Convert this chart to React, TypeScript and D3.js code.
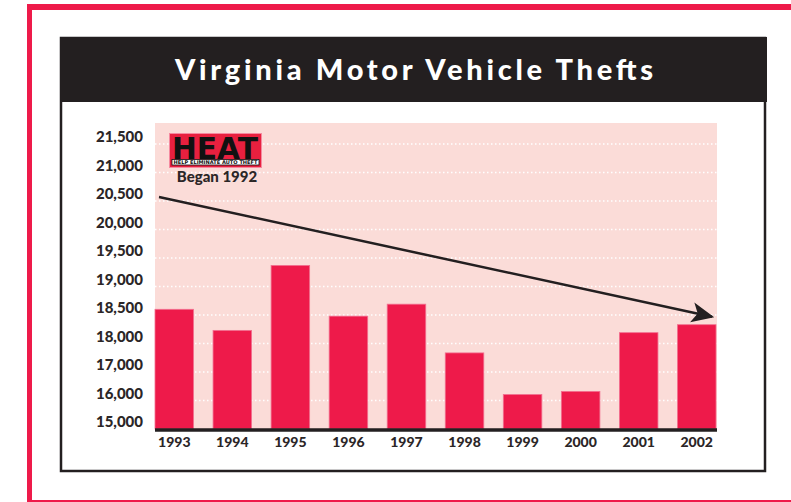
import React, { useEffect, useRef } from "react";
import * as d3 from "d3";

// chart values
const years = ["1993", "1994", "1995", "1996", "1997", "1998", "1999", "2000", "2001", "2002"];
const thefts = [18600, 18230, 19370, 18480, 18690, 17670, 16210, 16320, 18190, 18330];
const yTicks = [15000, 16000, 17000, 18000, 18500, 19000, 19500, 20000, 20500, 21000, 21500];
const trendStart = 20570;
const trendEnd = 18470;
const title = "Virginia Motor Vehicle Thefts";

const width = 791;
const height = 502;
const plot = { left: 155, right: 717, top: 123, bottom: 429, gridTop: 144 };
const RED = "#ee1a4a";
const DARK = "#231f20";
const TEXT = "#2b2627";

export default function App() {
  const ref = useRef<SVGSVGElement>(null);

  useEffect(() => {
    const svg = d3.select(ref.current);
    svg.selectAll("*").remove();

    // page frame
    svg.append("rect").attr("x", 27).attr("y", 4).attr("width", width - 27).attr("height", 6).attr("fill", RED);
    svg.append("rect").attr("x", 27).attr("y", 4).attr("width", 5).attr("height", height - 4).attr("fill", RED);
    svg.append("rect").attr("x", 27).attr("y", 500).attr("width", width - 27).attr("height", 2).attr("fill", RED);

    // chart box
    svg.append("rect").attr("x", 61).attr("y", 38).attr("width", 704).attr("height", 433)
      .attr("fill", "#fff").attr("stroke", DARK).attr("stroke-width", 2.5);
    svg.append("rect").attr("x", 60).attr("y", 37).attr("width", 707).attr("height", 65).attr("fill", DARK);
    svg.append("text").attr("x", 414).attr("y", 80).attr("text-anchor", "middle")
      .attr("font-family", "Lato, 'Open Sans', sans-serif").attr("font-weight", 900)
      .attr("font-size", 29).attr("fill", "#fff")
      .attr("textLength", 478).attr("lengthAdjust", "spacing")
      .text(title);

    // scales
    const x = d3.scaleBand<string>().domain(years).range([plot.left, plot.right - 1])
      .paddingInner(0.336).paddingOuter(0).align(0);
    const step = (plot.bottom - plot.gridTop) / (yTicks.length - 1);
    const y = d3.scaleLinear().domain(yTicks).range(yTicks.map((_, i) => plot.bottom - i * step));

    svg.append("rect").attr("x", plot.left).attr("y", plot.top)
      .attr("width", plot.right - plot.left).attr("height", plot.bottom - plot.top).attr("fill", "#fbdcd8");

    // dotted grid
    svg.append("g").selectAll("line").data(yTicks.slice(1)).join("line")
      .attr("x1", plot.left).attr("x2", plot.right)
      .attr("y1", d => y(d)).attr("y2", d => y(d))
      .attr("stroke", "#fff").attr("stroke-width", 1.5).attr("stroke-dasharray", "1.5,2.5");

    // y labels
    svg.append("g").selectAll("text").data(yTicks).join("text")
      .attr("x", 143).attr("y", d => y(d) - 2).attr("text-anchor", "end")
      .attr("font-family", "Lato, sans-serif").attr("font-weight", 900).attr("font-size", 15)
      .attr("fill", TEXT).text(d => d3.format(",")(d));

    // bars
    svg.append("g").selectAll("rect").data(thefts).join("rect")
      .attr("x", (d, i) => x(years[i])!).attr("width", x.bandwidth())
      .attr("y", d => y(d)).attr("height", d => plot.bottom - y(d))
      .attr("fill", RED).attr("stroke", "#f27090").attr("stroke-width", 0.8);

    // axis baseline
    svg.append("line").attr("x1", plot.left).attr("x2", plot.right)
      .attr("y1", plot.bottom + 1).attr("y2", plot.bottom + 1)
      .attr("stroke", DARK).attr("stroke-width", 3.5);

    svg.append("g").selectAll("text").data(years).join("text")
      .attr("x", d => x(d)! + x.bandwidth() / 2).attr("y", 447).attr("text-anchor", "middle")
      .attr("font-family", "Lato, sans-serif").attr("font-weight", 900).attr("font-size", 14)
      .attr("fill", TEXT).text(d => d);

    // trend arrow
    svg.append("defs").append("marker").attr("id", "head")
      .attr("viewBox", "0 0 10 10").attr("refX", 9).attr("refY", 5)
      .attr("markerWidth", 9).attr("markerHeight", 9).attr("markerUnits", "strokeWidth")
      .attr("orient", "auto")
      .append("path").attr("d", "M0,0.5 L10,5 L0,9.5 L2.5,5 Z").attr("fill", DARK);
    svg.append("line")
      .attr("x1", x(years[0])! + 4).attr("y1", y(trendStart))
      .attr("x2", x(years[years.length - 1])! + x.bandwidth() - 4).attr("y2", y(trendEnd))
      .attr("stroke", DARK).attr("stroke-width", 2.5).attr("marker-end", "url(#head)");

    // HEAT logo
    const logo = svg.append("g");
    logo.append("rect").attr("x", 169.5).attr("y", 133.5).attr("width", 92).attr("height", 34)
      .attr("fill", "#e8203f").attr("stroke", "#f58aa0").attr("stroke-width", 1);
    logo.append("text").attr("x", 172).attr("y", 158.5)
      .attr("font-family", "'DejaVu Sans', sans-serif").attr("font-weight", 900).attr("font-size", 30)
      .attr("textLength", 86).attr("lengthAdjust", "spacingAndGlyphs").attr("fill", "#111").text("HEAT");
    logo.append("rect").attr("x", 172).attr("y", 159.5).attr("width", 87).attr("height", 5.5)
      .attr("fill", "#fff").attr("stroke", "#111").attr("stroke-width", 0.8);
    logo.append("text").attr("x", 173.5).attr("y", 164.3)
      .attr("font-family", "'DejaVu Sans', sans-serif").attr("font-weight", 700).attr("font-size", 5)
      .attr("textLength", 84).attr("lengthAdjust", "spacingAndGlyphs").attr("fill", "#111")
      .text("HELP ELIMINATE AUTO THEFT");
    svg.append("text").attr("x", 217).attr("y", 182).attr("text-anchor", "middle")
      .attr("font-family", "Lato, sans-serif").attr("font-weight", 900).attr("font-size", 15)
      .attr("fill", TEXT).text("Began 1992");
  }, []);

  return (
    <svg ref={ref} width={width} height={height}
      style={{ position: "absolute", left: 0, top: 0, background: "#fff" }} />
  );
}
